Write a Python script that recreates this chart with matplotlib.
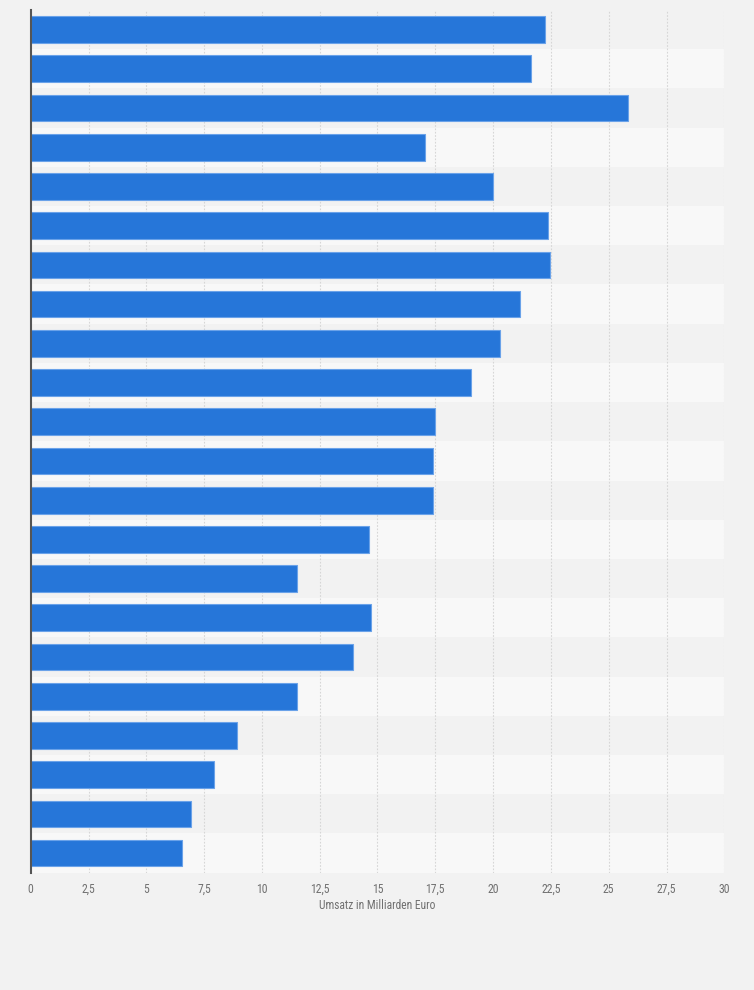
import matplotlib
matplotlib.use("Agg")
import matplotlib.pyplot as plt
import numpy as np

# Data (categories unlabeled in the picture)
categories = [f"Kategorie {i}" for i in range(1, 23)]
values = [22.23, 21.63, 25.83, 17.07, 19.98, 22.36, 22.46, 21.15, 20.28, 19.06,
          17.47, 17.39, 17.39, 14.65, 11.53, 14.73, 13.95, 11.53, 8.94, 7.94,
          6.95, 6.56]
xticks = [0, 2.5, 5, 7.5, 10, 12.5, 15, 17.5, 20, 22.5, 25, 27.5, 30]
xtick_labels = ["0", "2,5", "5", "7,5", "10", "12,5", "15", "17,5", "20",
                "22,5", "25", "27,5", "30"]
xlabel = "Umsatz in Milliarden Euro"

bg = "#f2f2f2"
fig = plt.figure(figsize=(7.54, 9.90), dpi=100, facecolor=bg)
ax = fig.add_axes([30.7 / 754, 1 - 872.7 / 990, (724.3 - 30.7) / 754, (872.7 - 10) / 990])
ax.set_facecolor(bg)

n = len(values)
y = np.arange(n)
for i in range(n):
    ax.axhspan(i - 0.5, i + 0.5, color="#f2f2f2" if i % 2 == 0 else "#f8f8f8",
               zorder=0, lw=0)

for xt in xticks[1:]:
    ax.axvline(xt, color="#d6d6d6", lw=0.8, ls=(0, (1.5, 1.5)), zorder=1)

ax.barh(y, values, height=0.68, color="#2676d9", edgecolor="#6aa2e9",
        linewidth=0.8, zorder=2)

ax.set_ylim(n - 0.5, -0.5)
ax.set_xlim(0, 30)
ax.set_yticks([])
ax.set_xticks(xticks)
font = ["Liberation Sans Narrow", "Roboto Condensed", "Roboto", "DejaVu Sans"]
ax.set_xticklabels(xtick_labels, family=font, fontsize=8.5, color="#707070")
ax.tick_params(axis="x", length=0, pad=7.5)
ax.set_xlabel(xlabel, family=font, fontsize=8.3, color="#707070", labelpad=2)

for s in ["top", "right", "bottom"]:
    ax.spines[s].set_visible(False)
ax.spines["left"].set_color("#555555")
ax.spines["left"].set_linewidth(1.5)

fig.savefig("out.png", dpi=100, facecolor=bg)
